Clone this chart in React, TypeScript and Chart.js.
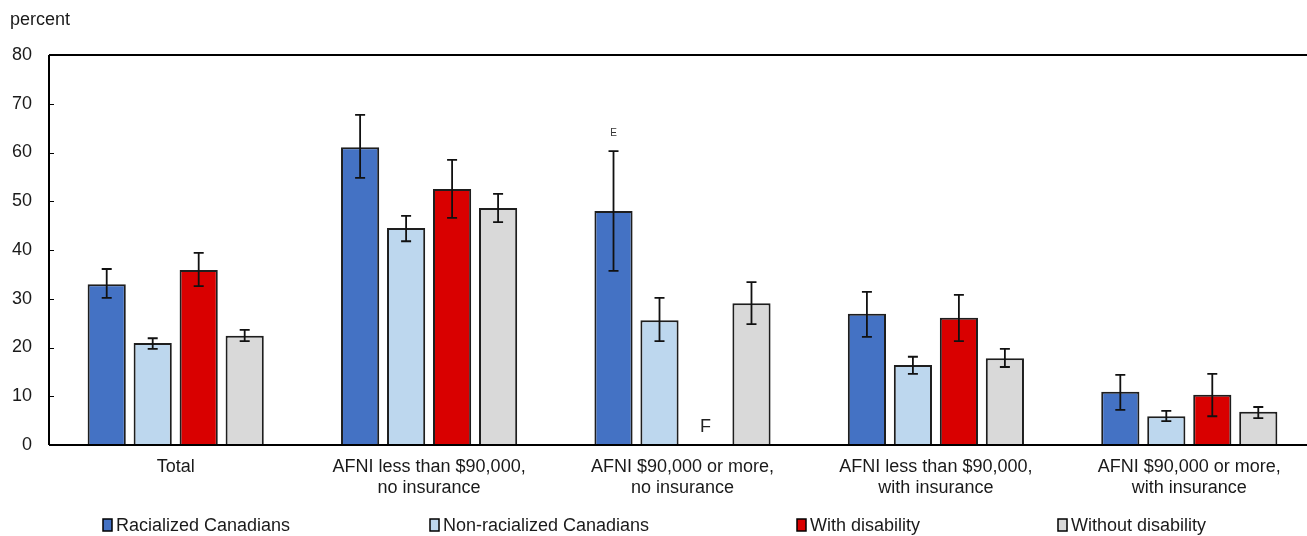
import { useEffect, useRef } from "react";
import { Chart, registerables } from "chart.js";

Chart.register(...registerables);

const categories = [
  ["Total"],
  ["AFNI less than $90,000,", "no insurance"],
  ["AFNI $90,000 or more,", "no insurance"],
  ["AFNI less than $90,000,", "with insurance"],
  ["AFNI $90,000 or more,", "with insurance"],
];

const seriesNames = ["Racialized Canadians", "Non-racialized Canadians", "With disability", "Without disability"];
const seriesColors = ["#4472C4", "#BDD7EE", "#D90000", "#D9D9D9"];

const racialized = [33.0, 61.1, 48.0, 26.9, 10.9];
const racializedLow = [30.2, 54.8, 35.7, 22.2, 7.2];
const racializedHigh = [36.1, 67.7, 60.3, 31.4, 14.4];
const racializedFlags = ["", "", "E", "", ""];

const nonRacialized = [20.9, 44.5, 25.6, 16.4, 5.9];
const nonRacializedLow = [19.7, 41.8, 21.3, 14.6, 4.9];
const nonRacializedHigh = [21.9, 47.0, 30.2, 18.1, 7.0];
const nonRacializedFlags = ["", "", "", "", ""];

const withDisability = [35.9, 52.5, null, 26.1, 10.3];
const withDisabilityLow = [32.6, 46.6, null, 21.3, 5.9];
const withDisabilityHigh = [39.4, 58.5, null, 30.8, 14.6];
const withDisabilityFlags = ["", "", "F", "", ""];

const withoutDisability = [22.4, 48.6, 29.1, 17.8, 6.8];
const withoutDisabilityLow = [21.3, 45.7, 24.8, 16.0, 5.5];
const withoutDisabilityHigh = [23.6, 51.5, 33.4, 19.7, 7.8];
const withoutDisabilityFlags = ["", "", "", "", ""];

const yMin = 0;
const yMax = 80;
const yStep = 10;
const yAxisTitle = "percent";

const FONT = '"Liberation Sans", Arial, sans-serif';
const TEXT = "#1a1a1a";
const legendX = [103, 430, 797, 1058];

const overlayPlugin = {
  id: "overlay",
  afterDatasetsDraw(chart: any) {
    const ctx = chart.ctx;
    const y = chart.scales.y;
    ctx.save();
    chart.data.datasets.forEach((ds: any, di: number) => {
      const meta = chart.getDatasetMeta(di);
      meta.data.forEach((el: any, i: number) => {
        const lo = ds.low[i];
        const hi = ds.high[i];
        const x = el.x;
        if (lo != null && hi != null) {
          const yl = y.getPixelForValue(lo);
          const yh = y.getPixelForValue(hi);
          ctx.strokeStyle = "#111";
          ctx.lineWidth = 1.8;
          ctx.beginPath();
          ctx.moveTo(x, yh);
          ctx.lineTo(x, yl);
          ctx.moveTo(x - 5, yh);
          ctx.lineTo(x + 5, yh);
          ctx.moveTo(x - 5, yl);
          ctx.lineTo(x + 5, yl);
          ctx.stroke();
        }
        const flag = ds.flags[i];
        if (flag === "E" && hi != null) {
          ctx.fillStyle = "#333";
          ctx.font = "10px " + FONT;
          ctx.textAlign = "center";
          ctx.textBaseline = "middle";
          ctx.fillText("E", x, y.getPixelForValue(hi) - 18);
        } else if (flag === "F") {
          ctx.fillStyle = "#222";
          ctx.font = "18px " + FONT;
          ctx.textAlign = "center";
          ctx.textBaseline = "middle";
          ctx.fillText("F", x, y.getPixelForValue(0) - 18);
        }
      });
    });
    ctx.restore();
  },
  afterDraw(chart: any) {
    const ctx = chart.ctx;
    const { left, top, bottom } = chart.chartArea;
    const y = chart.scales.y;
    const w = chart.width;
    ctx.save();
    ctx.strokeStyle = "#000";
    ctx.lineWidth = 2;
    ctx.beginPath();
    ctx.moveTo(left, top);
    ctx.lineTo(w, top);
    ctx.moveTo(left, top);
    ctx.lineTo(left, bottom);
    ctx.moveTo(left, bottom);
    ctx.lineTo(w, bottom);
    ctx.stroke();
    ctx.lineWidth = 1.2;
    ctx.beginPath();
    for (let v = yMin + yStep; v < yMax; v += yStep) {
      const py = Math.round(y.getPixelForValue(v)) + 0.5;
      ctx.moveTo(left, py);
      ctx.lineTo(left + 5, py);
    }
    ctx.stroke();

    ctx.fillStyle = TEXT;
    ctx.font = "18px " + FONT;
    ctx.textAlign = "left";
    ctx.textBaseline = "middle";
    ctx.fillText(yAxisTitle, 10, 20);

    const ly = 525;
    chart.data.datasets.forEach((ds: any, i: number) => {
      const bx = legendX[i];
      ctx.fillStyle = ds.backgroundColor;
      ctx.fillRect(bx, ly - 6, 9, 12);
      ctx.strokeStyle = "#000";
      ctx.lineWidth = 1.5;
      ctx.strokeRect(bx, ly - 6, 9, 12);
      ctx.fillStyle = TEXT;
      ctx.font = "18px " + FONT;
      ctx.textAlign = "left";
      ctx.textBaseline = "middle";
      ctx.fillText(ds.label, bx + 13, ly + 1);
    });
    ctx.restore();
  },
};

export default function App() {
  const ref = useRef<HTMLCanvasElement | null>(null);

  useEffect(() => {
    document.body.style.margin = "0";
    document.body.style.overflow = "hidden";
    const canvas = ref.current;
    if (!canvas) return;
    const values = [racialized, nonRacialized, withDisability, withoutDisability];
    const lows = [racializedLow, nonRacializedLow, withDisabilityLow, withoutDisabilityLow];
    const highs = [racializedHigh, nonRacializedHigh, withDisabilityHigh, withoutDisabilityHigh];
    const flags = [racializedFlags, nonRacializedFlags, withDisabilityFlags, withoutDisabilityFlags];
    const chart = new Chart(canvas, {
      type: "bar",
      data: {
        labels: categories,
        datasets: seriesNames.map((name, i) => ({
          label: name,
          data: values[i],
          backgroundColor: seriesColors[i],
          borderColor: "#1e1e1e",
          borderWidth: 2,
          low: lows[i],
          high: highs[i],
          flags: flags[i],
          categoryPercentage: 0.726,
          barPercentage: 0.83,
        })) as any,
      },
      options: {
        responsive: false,
        animation: false,
        devicePixelRatio: 1,
        layout: { padding: { top: 55, left: 0, right: 0, bottom: 0 } },
        plugins: {
          legend: { display: false },
          tooltip: { enabled: false },
          title: { display: false },
        },
        scales: {
          x: {
            grid: { display: false, drawTicks: false },
            border: { display: false },
            ticks: {
              color: TEXT,
              font: { family: FONT, size: 18, lineHeight: 1.2 },
              padding: 11,
              maxRotation: 0,
              autoSkip: false,
            },
            afterFit: (scale: any) => {
              scale.height = 91;
            },
          },
          y: {
            min: yMin,
            max: yMax,
            grid: { display: false, drawTicks: false },
            border: { display: false },
            ticks: {
              stepSize: yStep,
              color: TEXT,
              font: { family: FONT, size: 18 },
              padding: 17,
            },
            afterFit: (scale: any) => {
              scale.width = 49;
            },
          },
        },
      },
      plugins: [overlayPlugin],
    });
    return () => chart.destroy();
  }, []);

  return (
    <div style={{ width: 1316, height: 536, position: "relative" }}>
      <canvas ref={ref} width={1316} height={536} style={{ width: 1316, height: 536, display: "block" }} />
    </div>
  );
}
